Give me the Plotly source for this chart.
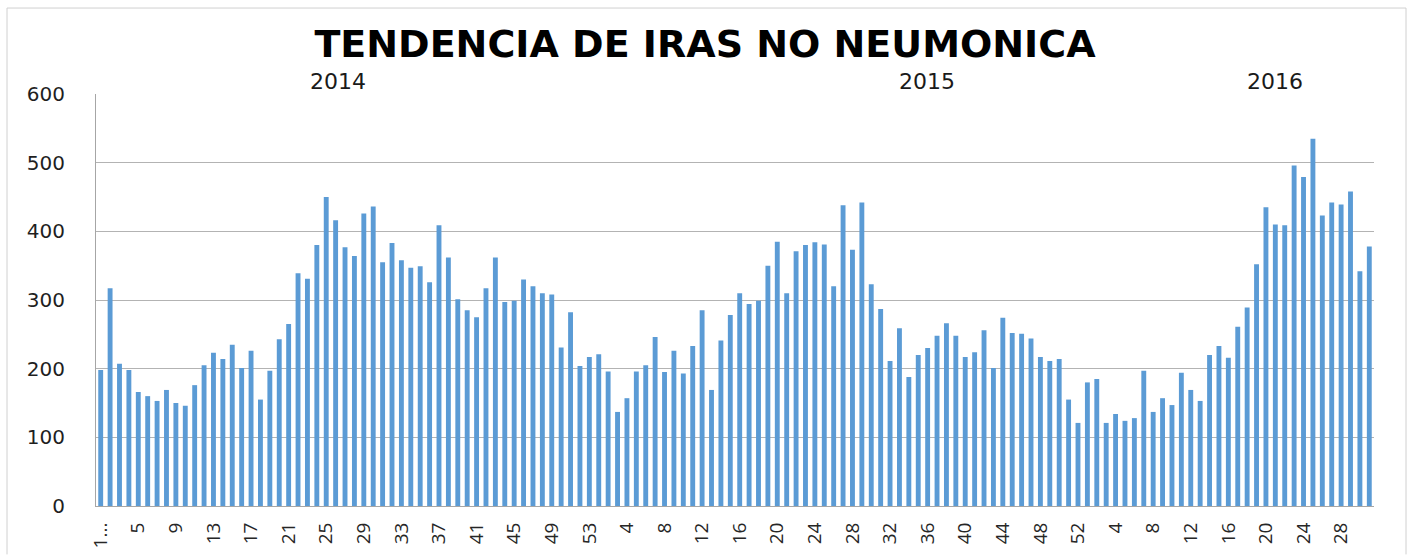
import plotly.graph_objects as go

title_text = "TENDENCIA DE IRAS NO NEUMONICA"

weeks_2014 = list(range(1, 54))
weeks_2015 = list(range(1, 53))
weeks_2016 = list(range(1, 32))

values_2014 = [198, 317, 207, 198, 166, 160, 153, 169, 150, 146,
               176, 205, 223, 214, 235, 201, 226, 155, 197, 243,
               265, 339, 331, 380, 450, 416, 377, 364, 426, 436,
               355, 383, 358, 347, 349, 326, 409, 362, 301, 285,
               275, 317, 362, 297, 299, 330, 320, 310, 308, 231,
               282, 204, 217]
values_2015 = [221, 196, 137, 157, 196, 205, 246, 195, 226, 193,
               233, 285, 169, 241, 278, 310, 294, 299, 350, 385,
               310, 371, 380, 384, 381, 320, 438, 373, 442, 323,
               287, 211, 259, 188, 220, 230, 248, 266, 248, 217,
               224, 256, 201, 274, 252, 251, 244, 217, 211, 214,
               155, 121]
values_2016 = [180, 185, 121, 134, 124, 128, 197, 137, 157, 147,
               194, 169, 153, 220, 233, 216, 261, 289, 352, 435,
               410, 409, 496, 479, 535, 423, 442, 439, 458, 342,
               378]

years = ["2014", "2015", "2016"]
year_label_px = [338, 927, 1275]

weeks = weeks_2014 + weeks_2015 + weeks_2016
values = values_2014 + values_2015 + values_2016
positions = list(range(1, len(values) + 1))

tick_pos = positions[::4]
tick_text = [str(weeks[p - 1]) for p in tick_pos]
tick_text[0] = "1..."

W, H = 1413, 560
L, R, T, B = 96, 39, 94, 49
pw, ph = W - L - R, H - T - B


def px_x(px):
    return (px - L) / pw


def px_y(py):
    return (H - B - py) / ph


fig = go.Figure()
fig.add_trace(go.Bar(
    x=positions, y=values,
    marker=dict(color="#5b9bd5", line=dict(width=0)),
    hovertext=[f"{w}" for w in weeks],
))

fig.update_layout(
    width=W, height=H,
    margin=dict(l=L, r=R, t=T, b=B),
    paper_bgcolor="white", plot_bgcolor="white",
    bargap=0.48,
    showlegend=False,
    title=dict(text=f"<b>{title_text}</b>", x=(300 + 1110) / 2 / W, xanchor="center",
               y=1 - 44 / H, yanchor="middle", yref="container",
               font=dict(family="DejaVu Sans, sans-serif", size=38, color="black")),
    font=dict(family="DejaVu Sans, sans-serif", color="#262626"),
)

fig.update_xaxes(
    range=[0.5, len(values) + 0.5],
    tickmode="array", tickvals=tick_pos, ticktext=tick_text,
    tickangle=-90,
    tickfont=dict(family="Open Sans, sans-serif", size=19, color="#262626"),
    showgrid=False, showline=True, linecolor="#a6a6a6", linewidth=1,
    ticks="", ticklabelstandoff=8, zeroline=False,
)
fig.update_yaxes(
    range=[0, 600], dtick=100,
    tickfont=dict(family="DejaVu Sans, sans-serif", size=20, color="#1f1f1f"),
    showgrid=True, gridcolor="#b3b3b3", gridwidth=1,
    showline=True, linecolor="#a6a6a6", linewidth=1,
    ticks="", ticklabelstandoff=26, zeroline=False,
)

for yr, xp in zip(years, year_label_px):
    fig.add_annotation(text=yr, x=px_x(xp), y=px_y(81), xref="paper", yref="paper",
                       showarrow=False, xanchor="center", yanchor="middle",
                       font=dict(family="DejaVu Sans, sans-serif", size=22, color="#1a1a1a"))

frame = dict(color="#d0d0d0", width=1)
x0, x1 = px_x(7), px_x(1406)
y0, y1 = px_y(7), px_y(560)
fig.add_shape(type="line", xref="paper", yref="paper", x0=x0, x1=x1, y0=y0, y1=y0, line=frame)
fig.add_shape(type="line", xref="paper", yref="paper", x0=x0, x1=x0, y0=y0, y1=y1, line=frame)
fig.add_shape(type="line", xref="paper", yref="paper", x0=x1, x1=x1, y0=y0, y1=y1, line=frame)

fig.write_html("out.html", config={"displayModeBar": False},
               post_script="document.body.style.margin='0px';")
